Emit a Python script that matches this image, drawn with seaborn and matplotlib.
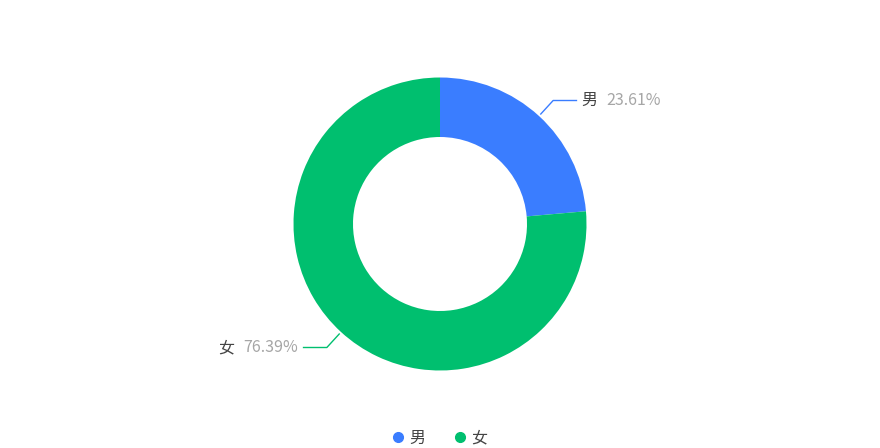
import numpy as np
import matplotlib
matplotlib.use("Agg")
import matplotlib.pyplot as plt
from matplotlib.lines import Line2D
import seaborn as sns

labels = ["男", "女"]
shares = [23.61, 76.39]
colors = ["#3a7dff", "#00bf6f"]

sns.set_theme(style="white")
plt.rcParams['font.family'] = ['Noto Sans CJK SC', 'DejaVu Sans']

W, H = 880, 448
fig = plt.figure(figsize=(W / 100, H / 100), dpi=100)
ax = fig.add_axes([0, 0, 1, 1])

cx, cy = 440, 224
r_out, r_in = 146.5, 87
wedges, _ = ax.pie(shares, colors=colors, startangle=90, counterclock=False,
                   radius=r_out, center=(cx, cy),
                   wedgeprops=dict(width=r_out - r_in, linewidth=0))
# pie resets the limits, so set them afterwards
ax.set_xlim(0, W)
ax.set_ylim(0, H)
ax.set_aspect("equal")
ax.axis("off")

# label lines
for w, lab, val, col in zip(wedges, labels, shares, colors):
    ang = np.deg2rad((w.theta1 + w.theta2) / 2)
    c, s = np.cos(ang), np.sin(ang)
    x0, y0 = cx + (r_out + 2) * c, cy + (r_out + 2) * s
    x1, y1 = cx + (r_out + 21) * c, cy + (r_out + 21) * s
    side = 1 if c > 0 else -1
    x2 = x1 + side * 24
    ax.plot([x0, x1, x2], [y0, y1, y1], color=col, lw=1, solid_capstyle="butt")
    if side > 0:
        ax.text(x2 + 4, y1, lab, ha="left", va="center", fontsize=11.5, color="#444444")
        ax.text(x2 + 29, y1, f"{val:.2f}%", ha="left", va="center", fontsize=11.5, color="#a6a6a6")
    else:
        ax.text(x2 - 5, y1, f"{val:.2f}%", ha="right", va="center", fontsize=11.5, color="#a6a6a6")
        ax.text(x2 - 69, y1, lab, ha="right", va="center", fontsize=11.5, color="#444444")

handles = [Line2D([], [], marker="o", linestyle="", markersize=7,
                  markerfacecolor=c, markeredgecolor=c, label=l)
           for l, c in zip(labels, colors)]
fig.legend(handles=handles, loc="center", bbox_to_anchor=(0.5, 10 / H), ncol=2,
           frameon=False, fontsize=11.5, handlelength=0.6, handletextpad=0.4,
           columnspacing=1.9, labelcolor="#444444")

fig.savefig("out.png", dpi=100)
